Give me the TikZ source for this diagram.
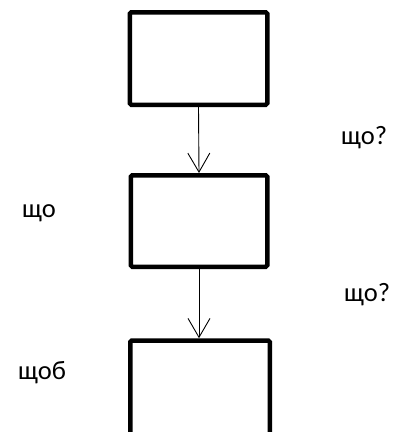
\documentclass[tikz,border=0pt]{standalone}
\usepackage{fontspec}
\setmainfont{Carlito}
\usetikzlibrary{arrows.meta}

\tikzset{
  stagebox/.style={draw, line width=4.5pt, rounded corners=1.5pt, inner sep=0pt},
  flow/.style={-{Straight Barb[length=19pt, width=22pt]}, line width=0.9pt},
  note/.style={font=\fontsize{26.5}{30}\selectfont, inner sep=0pt, anchor=base west}
}

\begin{document}
\begin{tikzpicture}[x=1pt, y=-1pt]
    \useasboundingbox (0,0) rectangle (406,432);
    \clip (0,0) rectangle (406,432);
    % boxes
    \node[stagebox, minimum width=137.5pt, minimum height=92.5pt] (top) at (198.5,58.5) {};
    \node[stagebox, minimum width=136.5pt, minimum height=91.5pt] (mid) at (199,221) {};
    \node[stagebox, minimum width=139.5pt, minimum height=100pt] (low) at (200,390.5) {};
    % arrows
    \draw[flow] (top.south) -- (mid.north);
    \draw[flow] (mid.south) -- (mid.south |- low.north);
    % labels
    \node[note] (q1) at (341,144) {що?};
    \node[note] (w1) at (22,217) {що};
    \node[note] (q2) at (344,301) {що?};
    \node[note] (w2) at (18,379) {щоб};
\end{tikzpicture}
\end{document}
